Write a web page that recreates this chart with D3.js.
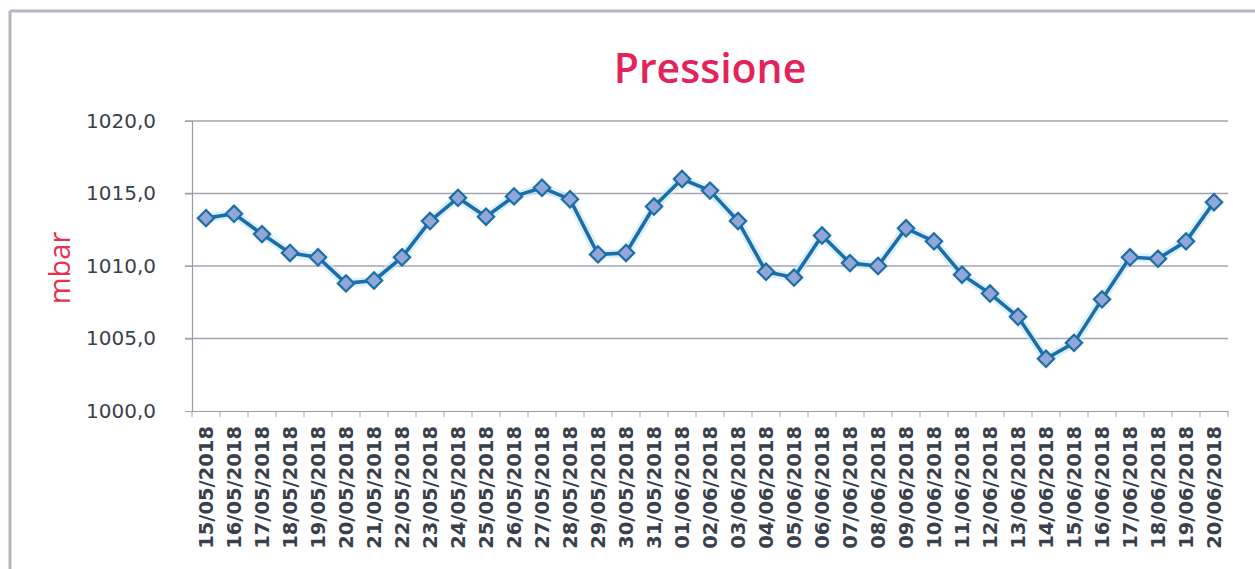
<!DOCTYPE html>
<html><head><meta charset="utf-8">
<script src="https://cdn.jsdelivr.net/npm/d3@7"></script>
<style>body{margin:0;background:#fff}svg{display:block}</style>
</head><body>
<script>
const dates = ["15/05/2018","16/05/2018","17/05/2018","18/05/2018","19/05/2018","20/05/2018","21/05/2018","22/05/2018","23/05/2018","24/05/2018","25/05/2018","26/05/2018","27/05/2018","28/05/2018","29/05/2018","30/05/2018","31/05/2018","01/06/2018","02/06/2018","03/06/2018","04/06/2018","05/06/2018","06/06/2018","07/06/2018","08/06/2018","09/06/2018","10/06/2018","11/06/2018","12/06/2018","13/06/2018","14/06/2018","15/06/2018","16/06/2018","17/06/2018","18/06/2018","19/06/2018","20/06/2018"];
const pressure = [1013.3,1013.6,1012.2,1010.9,1010.6,1008.8,1009.0,1010.6,1013.1,1014.7,1013.4,1014.8,1015.4,1014.6,1010.8,1010.9,1014.1,1016.0,1015.2,1013.1,1009.6,1009.2,1012.1,1010.2,1010.0,1012.6,1011.7,1009.4,1008.1,1006.5,1003.6,1004.7,1007.7,1010.6,1010.5,1011.7,1014.4];
const yTicks = [1000,1005,1010,1015,1020];
const title = "Pressione";
const yLabel = "mbar";

const W = 1255, H = 569;
const m = {left:192, right:1228, top:121, bottom:411};
const svg = d3.select("body").append("svg").attr("width",W).attr("height",H);

// frame
svg.append("line").attr("x1",10).attr("x2",W).attr("y1",11).attr("y2",11).attr("stroke","#b4b6c4").attr("stroke-width",3);
svg.append("line").attr("x1",10).attr("x2",10).attr("y1",11).attr("y2",H).attr("stroke","#b4b6c4").attr("stroke-width",3);

const x = d3.scaleBand().domain(dates).range([m.left,m.right]);
const y = d3.scaleLinear().domain([1000,1020]).range([m.bottom,m.top]);

// grid
svg.append("g").selectAll("line").data(yTicks.slice(1)).join("line")
  .attr("x1",m.left-7).attr("x2",m.right).attr("y1",d=>y(d)).attr("y2",d=>y(d))
  .attr("stroke","#a2a4b0").attr("stroke-width",1.5);

// y axis
const fmt = d => d3.format(".1f")(d).replace(".",",");
const ya = svg.append("g").attr("transform",`translate(${m.left},0)`)
  .call(d3.axisLeft(y).tickValues(yTicks).tickFormat(fmt).tickSize(7).tickPadding(29));
ya.select(".domain").attr("stroke","#9a9ca8").attr("stroke-width",1.2);
ya.selectAll(".tick line").attr("stroke","#a2a4b0");
ya.selectAll("text").attr("font-family","DejaVu Sans, sans-serif").attr("font-size",20).attr("fill","#3a3f4c");

// x axis
const xa = svg.append("g").attr("transform",`translate(0,${m.bottom})`)
  .call(d3.axisBottom(x).tickSize(0).tickPadding(8));
xa.select(".domain").attr("stroke","#9a9ca8").attr("stroke-width",1.2);
xa.selectAll(".tick text")
  .attr("font-family","DejaVu Sans, sans-serif").attr("font-size",19.5).attr("font-weight","bold")
  .attr("fill","#3a3f4c")
  .attr("transform","rotate(-90)").attr("text-anchor","end").attr("dy","0.36em").attr("x",-15).attr("y",0);
// category separators
svg.append("g").selectAll("line").data(dates.concat(["__end"])).join("line")
  .attr("x1",(d,i)=>m.left + i*x.bandwidth()).attr("x2",(d,i)=>m.left + i*x.bandwidth())
  .attr("y1",m.bottom).attr("y2",m.bottom+6).attr("stroke","#a2a4b0").attr("stroke-width",1);

// line
const cx = d => x(d)+x.bandwidth()/2;
const line = d3.line().x((d,i)=>cx(dates[i])).y(d=>y(d));
svg.append("path").datum(pressure).attr("d",line).attr("fill","none")
  .attr("stroke","#c4e6f6").attr("stroke-width",9).attr("stroke-linejoin","round").attr("opacity",0.6);
svg.append("path").datum(pressure).attr("d",line).attr("fill","none")
  .attr("stroke","#1b6ea8").attr("stroke-width",3.6).attr("stroke-linejoin","round");

// markers
svg.append("g").selectAll("path").data(pressure).join("path")
  .attr("d",d3.symbol().type(d3.symbolDiamond2).size(170))
  .attr("transform",(d,i)=>`translate(${cx(dates[i])},${y(d)})`)
  .attr("fill","#93a6d8").attr("stroke","#1b6ea8").attr("stroke-width",2.2);

// title
svg.append("text").attr("x",710).attr("y",83).attr("text-anchor","middle")
  .attr("font-family","Open Sans, sans-serif").attr("font-size",41).attr("font-weight","600")
  .attr("fill","#e3245a").text(title);

// y label
svg.append("text").attr("transform","translate(70,268) rotate(-90)").attr("text-anchor","middle")
  .attr("font-family","Open Sans, sans-serif").attr("font-size",29)
  .attr("fill","#e8304f").text(yLabel);
</script>
</body></html>
